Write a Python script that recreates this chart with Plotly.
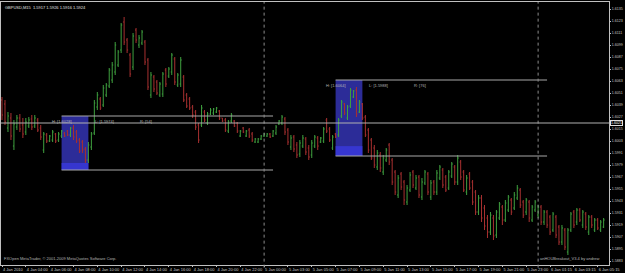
import plotly.graph_objects as go

# ---------------- data (GBPUSD, M15) ----------------
opens = [1.6044, 1.6040, 1.6016, 1.6026, 1.5998, 1.6017, 1.6026, 1.6019, 1.6012, 1.6018,
         1.6025, 1.6018, 1.6024, 1.6016, 1.5994, 1.6009, 1.6003, 1.6004, 1.6010, 1.6004,
         1.6008, 1.6011, 1.6013, 1.6009, 1.6016, 1.6012, 1.6004, 1.6002, 1.5995, 1.5984,
         1.5997, 1.6011, 1.6037, 1.6045, 1.6039, 1.6049, 1.6058, 1.6064, 1.6072, 1.6079,
         1.6094, 1.6122, 1.6104, 1.6089, 1.6077, 1.6114, 1.6099, 1.6101, 1.6102, 1.6084,
         1.6049, 1.6067, 1.6062, 1.6049, 1.6050, 1.6074, 1.6068, 1.6072, 1.6085, 1.6059,
         1.6060, 1.6067, 1.6049, 1.6045, 1.6037, 1.6032, 1.6019, 1.6019, 1.6032, 1.6021,
         1.6030, 1.6031, 1.6032, 1.6033, 1.6026, 1.6024, 1.6013, 1.6023, 1.6023, 1.6021,
         1.6008, 1.6016, 1.6008, 1.6014, 1.6010, 1.6002, 1.6002, 1.6005, 1.6008, 1.6008,
         1.6010, 1.6008, 1.6011, 1.6020, 1.6021, 1.6025, 1.6014, 1.5997, 1.6007, 1.5999,
         1.5990, 1.5998, 1.6005, 1.5996, 1.5989, 1.5998, 1.6006, 1.6002, 1.6003, 1.6024,
         1.6015, 1.5996, 1.6010, 1.6009, 1.6028, 1.6040, 1.6026, 1.6038, 1.6047, 1.6054,
         1.6032, 1.6040, 1.6027, 1.6014, 1.6004, 1.5996, 1.5977, 1.5989, 1.5972, 1.5984,
         1.5999, 1.5984, 1.5972, 1.5949, 1.5970, 1.5962, 1.5942, 1.5954, 1.5972, 1.5956,
         1.5967, 1.5947, 1.5961, 1.5970, 1.5947, 1.5962, 1.5952, 1.5966, 1.5974, 1.5967,
         1.5956, 1.5968, 1.5977, 1.5962, 1.5982, 1.5972, 1.5952, 1.5970, 1.5962, 1.5952,
         1.5932, 1.5946, 1.5936, 1.5926, 1.5912, 1.5926, 1.5909, 1.5926, 1.5937, 1.5924,
         1.5934, 1.5944, 1.5936, 1.5946, 1.5954, 1.5942, 1.5932, 1.5942, 1.5924, 1.5934,
         1.5929, 1.5937, 1.5922, 1.5932, 1.5927, 1.5914, 1.5927, 1.5917, 1.5902, 1.5914,
         1.5892, 1.5914, 1.5932, 1.5922, 1.5934, 1.5919, 1.5930, 1.5912, 1.5927, 1.5914,
         1.5924, 1.5914, 1.5917]
highs = [1.6047, 1.6044, 1.6032, 1.6031, 1.6024, 1.6029, 1.6030, 1.6026, 1.6026, 1.6027,
         1.6029, 1.6029, 1.6026, 1.6019, 1.6012, 1.6011, 1.6009, 1.6014, 1.6011, 1.6012,
         1.6014, 1.6012, 1.6014, 1.6017, 1.6019, 1.6014, 1.6006, 1.6004, 1.5997, 1.6002,
         1.6012, 1.6044, 1.6052, 1.6047, 1.6059, 1.6061, 1.6076, 1.6082, 1.6102, 1.6094,
         1.6121, 1.6127, 1.6106, 1.6091, 1.6111, 1.6116, 1.6109, 1.6114, 1.6104, 1.6086,
         1.6072, 1.6069, 1.6064, 1.6062, 1.6072, 1.6076, 1.6077, 1.6091, 1.6087, 1.6071,
         1.6087, 1.6069, 1.6051, 1.6047, 1.6039, 1.6034, 1.6021, 1.6039, 1.6034, 1.6032,
         1.6036, 1.6036, 1.6037, 1.6034, 1.6026, 1.6026, 1.6024, 1.6031, 1.6024, 1.6022,
         1.6014, 1.6017, 1.6014, 1.6016, 1.6012, 1.6006, 1.6006, 1.6009, 1.6011, 1.6011,
         1.6011, 1.6014, 1.6019, 1.6024, 1.6029, 1.6027, 1.6016, 1.6009, 1.6009, 1.6002,
         1.6004, 1.6009, 1.6007, 1.5999, 1.6004, 1.6009, 1.6008, 1.6007, 1.6017, 1.6026,
         1.6017, 1.6009, 1.6011, 1.6026, 1.6044, 1.6041, 1.6039, 1.6056, 1.6054, 1.6057,
         1.6044, 1.6041, 1.6029, 1.6016, 1.6006, 1.5999, 1.5994, 1.5992, 1.5989, 1.5996,
         1.6001, 1.5986, 1.5974, 1.5969, 1.5972, 1.5964, 1.5959, 1.5972, 1.5974, 1.5969,
         1.5969, 1.5966, 1.5974, 1.5972, 1.5964, 1.5964, 1.5974, 1.5979, 1.5976, 1.5969,
         1.5974, 1.5982, 1.5979, 1.5989, 1.5984, 1.5974, 1.5969, 1.5972, 1.5964, 1.5954,
         1.5949, 1.5949, 1.5939, 1.5929, 1.5932, 1.5929, 1.5934, 1.5942, 1.5939, 1.5944,
         1.5949, 1.5946, 1.5952, 1.5959, 1.5956, 1.5944, 1.5946, 1.5944, 1.5939, 1.5944,
         1.5939, 1.5939, 1.5934, 1.5934, 1.5929, 1.5932, 1.5929, 1.5919, 1.5919, 1.5916,
         1.5916, 1.5932, 1.5934, 1.5936, 1.5936, 1.5934, 1.5932, 1.5929, 1.5929, 1.5926,
         1.5926, 1.5924, 1.5926]
lows = [1.6024, 1.6019, 1.6012, 1.6004, 1.5994, 1.6014, 1.6012, 1.6006, 1.6009, 1.6016,
        1.6014, 1.6016, 1.6012, 1.6004, 1.5991, 1.6001, 1.6002, 1.6002, 1.6001, 1.6002,
        1.6006, 1.6007, 1.6008, 1.6007, 1.6004, 1.6001, 1.5991, 1.5991, 1.5981, 1.5981,
        1.5994, 1.6009, 1.6034, 1.6034, 1.6037, 1.6047, 1.6056, 1.6061, 1.6069, 1.6077,
        1.6091, 1.6099, 1.6091, 1.6067, 1.6074, 1.6101, 1.6096, 1.6099, 1.6079, 1.6054,
        1.6046, 1.6052, 1.6049, 1.6047, 1.6047, 1.6057, 1.6066, 1.6069, 1.6059, 1.6057,
        1.6057, 1.6042, 1.6036, 1.6034, 1.6026, 1.6014, 1.6001, 1.6017, 1.6022, 1.6019,
        1.6029, 1.6029, 1.6031, 1.6024, 1.6022, 1.6012, 1.6011, 1.6021, 1.6017, 1.6011,
        1.6007, 1.6011, 1.6007, 1.6006, 1.6002, 1.6001, 1.6001, 1.6004, 1.6007, 1.6007,
        1.6006, 1.6007, 1.6009, 1.6019, 1.6019, 1.6009, 1.5999, 1.5994, 1.5992, 1.5986,
        1.5987, 1.5996, 1.5989, 1.5984, 1.5986, 1.5996, 1.5994, 1.6001, 1.6001, 1.6011,
        1.6002, 1.5994, 1.6006, 1.6007, 1.6026, 1.6029, 1.6024, 1.6036, 1.6046, 1.6027,
        1.6031, 1.6024, 1.6007, 1.5991, 1.5984, 1.5976, 1.5974, 1.5972, 1.5969, 1.5982,
        1.5979, 1.5959, 1.5949, 1.5946, 1.5954, 1.5939, 1.5939, 1.5952, 1.5956, 1.5954,
        1.5946, 1.5944, 1.5959, 1.5949, 1.5944, 1.5949, 1.5949, 1.5964, 1.5956, 1.5952,
        1.5954, 1.5966, 1.5959, 1.5959, 1.5964, 1.5952, 1.5949, 1.5954, 1.5939, 1.5929,
        1.5929, 1.5922, 1.5914, 1.5906, 1.5909, 1.5904, 1.5906, 1.5924, 1.5919, 1.5922,
        1.5932, 1.5929, 1.5934, 1.5944, 1.5936, 1.5926, 1.5929, 1.5922, 1.5922, 1.5932,
        1.5926, 1.5919, 1.5919, 1.5916, 1.5909, 1.5912, 1.5906, 1.5899, 1.5899, 1.5894,
        1.5889, 1.5912, 1.5916, 1.5919, 1.5922, 1.5916, 1.5914, 1.5909, 1.5916, 1.5912,
        1.5914, 1.5912, 1.5916]
closes = [1.6029, 1.6022, 1.6028, 1.6008, 1.6020, 1.6026, 1.6015, 1.6010, 1.6022, 1.6024,
          1.6017, 1.6026, 1.6014, 1.6007, 1.6010, 1.6003, 1.6008, 1.6012, 1.6003, 1.6010,
          1.6013, 1.6008, 1.6009, 1.6016, 1.6007, 1.6003, 1.5993, 1.5994, 1.5984, 1.5999,
          1.6010, 1.6041, 1.6049, 1.6036, 1.6056, 1.6059, 1.6074, 1.6079, 1.6099, 1.6092,
          1.6119, 1.6102, 1.6094, 1.6070, 1.6108, 1.6104, 1.6106, 1.6112, 1.6082, 1.6057,
          1.6069, 1.6055, 1.6051, 1.6060, 1.6070, 1.6060, 1.6075, 1.6089, 1.6062, 1.6069,
          1.6084, 1.6044, 1.6038, 1.6036, 1.6029, 1.6017, 1.6004, 1.6036, 1.6024, 1.6030,
          1.6034, 1.6035, 1.6036, 1.6026, 1.6023, 1.6014, 1.6022, 1.6029, 1.6018, 1.6013,
          1.6013, 1.6012, 1.6013, 1.6008, 1.6004, 1.6005, 1.6005, 1.6008, 1.6010, 1.6010,
          1.6007, 1.6013, 1.6017, 1.6023, 1.6027, 1.6012, 1.6002, 1.6006, 1.5995, 1.5989,
          1.6001, 1.6006, 1.5992, 1.5987, 1.6001, 1.6007, 1.5998, 1.6006, 1.6015, 1.6013,
          1.6004, 1.6007, 1.6007, 1.6024, 1.6042, 1.6031, 1.6037, 1.6054, 1.6053, 1.6030,
          1.6042, 1.6026, 1.6009, 1.5994, 1.5986, 1.5979, 1.5991, 1.5976, 1.5986, 1.5994,
          1.5982, 1.5962, 1.5952, 1.5966, 1.5957, 1.5944, 1.5956, 1.5969, 1.5959, 1.5966,
          1.5949, 1.5962, 1.5972, 1.5952, 1.5961, 1.5952, 1.5971, 1.5977, 1.5959, 1.5954,
          1.5972, 1.5980, 1.5962, 1.5986, 1.5967, 1.5954, 1.5966, 1.5956, 1.5942, 1.5932,
          1.5946, 1.5926, 1.5918, 1.5912, 1.5929, 1.5908, 1.5932, 1.5940, 1.5924, 1.5941,
          1.5947, 1.5932, 1.5949, 1.5956, 1.5939, 1.5929, 1.5944, 1.5926, 1.5937, 1.5942,
          1.5937, 1.5922, 1.5932, 1.5919, 1.5912, 1.5930, 1.5909, 1.5902, 1.5916, 1.5897,
          1.5914, 1.5930, 1.5919, 1.5934, 1.5924, 1.5932, 1.5917, 1.5927, 1.5919, 1.5924,
          1.5916, 1.5922, 1.5924]

time_tick_bars = [0, 8, 16, 24, 32, 40, 48, 56, 64, 72, 80, 88, 96,
                  104, 112, 120, 128, 136, 144, 152, 160, 168, 176, 184, 192, 200]
time_tick_labels = ["4 Jan 2010", "4 Jan 04:00", "4 Jan 06:00", "4 Jan 08:00", "4 Jan 10:00",
                    "4 Jan 12:00", "4 Jan 14:00", "4 Jan 16:00", "4 Jan 18:00", "4 Jan 20:00",
                    "4 Jan 22:00", "5 Jan 00:00", "5 Jan 03:00", "5 Jan 05:00", "5 Jan 07:00",
                    "5 Jan 09:00", "5 Jan 11:00", "5 Jan 13:00", "5 Jan 15:00", "5 Jan 17:00",
                    "5 Jan 19:00", "5 Jan 21:00", "5 Jan 23:00", "6 Jan 01:15", "6 Jan 03:15",
                    "6 Jan 05:15"]
price_ticks = [1.6135, 1.6123, 1.6111, 1.6099, 1.6087, 1.6075, 1.6063, 1.6051, 1.6039,
               1.6027, 1.6015, 1.6003, 1.5991, 1.5979, 1.5967, 1.5955, 1.5943, 1.5931,
               1.5919, 1.5907, 1.5895, 1.5883]

day_separators = [88, 180]
hline_price = 1.6021
# breakout boxes: start bar, end bar, line end bar, high, low, range pips
box_start = [20, 112]
box_end = [29, 121]
box_line_end = [91, 183]
box_high = [1.6028, 1.6064]
box_low = [1.5974, 1.5988]
box_range = [54, 76]

bars = list(range(len(opens)))

FONT = "Liberation Sans, Arial, sans-serif"
GRAY = "#b4b4b4"

fig = go.Figure()
fig.add_trace(go.Ohlc(
    x=bars, open=opens, high=highs, low=lows, close=closes,
    increasing=dict(line=dict(color="#3fa03f", width=1)),
    decreasing=dict(line=dict(color="#a83030", width=1)),
    tickwidth=0.34, hoverinfo="skip", showlegend=False,
))

shapes = []
annotations = []
for k in range(len(box_start)):
    x0, x1 = box_start[k], box_end[k]
    hi, lo = box_high[k], box_low[k]
    strip = (hi - lo) * 0.13
    shapes.append(dict(type="rect", xref="x", yref="y", x0=x0, x1=x1, y0=lo, y1=hi,
                       fillcolor="#2c2c98", line=dict(width=0), layer="below"))
    shapes.append(dict(type="rect", xref="x", yref="y", x0=x0, x1=x1, y0=lo, y1=lo + strip,
                       fillcolor="#3636d0", line=dict(width=0), layer="below"))
    for yv in (hi, lo):
        shapes.append(dict(type="line", xref="x", yref="y", x0=x0, x1=box_line_end[k],
                           y0=yv, y1=yv, line=dict(color="#a8a8a8", width=1)))
    texts = ["H: [%.4f]" % hi, "L: [%.4f]" % lo, "R: [%d]" % box_range[k]]
    offs = [-4, 10.5, 25.6]
    for t, o in zip(texts, offs):
        annotations.append(dict(x=x0 + o, y=hi, xref="x", yref="y", text=t, showarrow=False,
                                xanchor="left", yanchor="top", yshift=-0.5,
                                font=dict(size=4, color=GRAY, family=FONT)))

for d in day_separators:
    shapes.append(dict(type="line", xref="x", yref="paper", x0=d, x1=d, y0=-0.01, y1=1,
                       line=dict(color="#8c8c8c", width=1, dash="dot")))
shapes.append(dict(type="line", xref="paper", yref="y", x0=0, x1=1, y0=hline_price,
                   y1=hline_price, line=dict(color="#b0b0b0", width=1)))

annotations.append(dict(x=1, y=hline_price, xref="paper", yref="y", text="%.4f" % hline_price,
                        showarrow=False, xanchor="left", xshift=1,
                        font=dict(size=3.6, color="#ffffff", family=FONT),
                        bgcolor="#000000", bordercolor="#e0e0e0", borderwidth=1, borderpad=0))
annotations.append(dict(x=0, y=1, xref="paper", yref="paper",
                        text="GBPUSD,M15  %.4f %.4f %.4f %.4f" % (opens[-1], highs[-1], lows[-1], closes[-1]),
                        showarrow=False, xanchor="left", yanchor="top", xshift=2, yshift=-1,
                        font=dict(size=4, color="#e0e0e0", family=FONT)))
annotations.append(dict(x=0, y=0, xref="paper", yref="paper",
                        text="FXOpen MetaTrader, © 2001-2009 MetaQuotes Software Corp.",
                        showarrow=False, xanchor="left", yanchor="bottom", xshift=1, yshift=2,
                        font=dict(size=4, color=GRAY, family=FONT)))
annotations.append(dict(x=1, y=0, xref="paper", yref="paper",
                        text="anHOUBreakout_V3.4 by andrew",
                        showarrow=False, xanchor="right", yanchor="bottom", xshift=-8, yshift=2,
                        font=dict(size=4, color=GRAY, family=FONT)))

fig.update_layout(
    width=625, height=273,
    margin=dict(l=1, r=16, t=2, b=8, pad=0),
    paper_bgcolor="#000000", plot_bgcolor="#000000",
    shapes=shapes, annotations=annotations,
    showlegend=False,
    xaxis=dict(range=[-0.34, 203.8], rangeslider=dict(visible=False),
               tickmode="array", tickvals=time_tick_bars, ticktext=time_tick_labels,
               ticks="outside", ticklen=1, tickcolor="#c0c0c0", tickangle=0,
               ticklabelposition="outside right",
               tickfont=dict(size=4, color="#c8c8c8", family=FONT),
               showgrid=False, zeroline=False, showline=True, linecolor="#c0c0c0",
               linewidth=1, mirror=True, automargin=False, fixedrange=True),
    yaxis=dict(range=[1.5879, 1.6142], side="right",
               tickmode="array", tickvals=price_ticks,
               ticktext=["%.4f" % v for v in price_ticks],
               ticks="outside", ticklen=1, tickcolor="#c0c0c0",
               tickfont=dict(size=3.6, color="#c8c8c8", family=FONT),
               showgrid=False, zeroline=False, showline=True, linecolor="#c0c0c0",
               linewidth=1, mirror=True, automargin=False, fixedrange=True),
)

fig.write_html("out.html", config={"displayModeBar": False})
